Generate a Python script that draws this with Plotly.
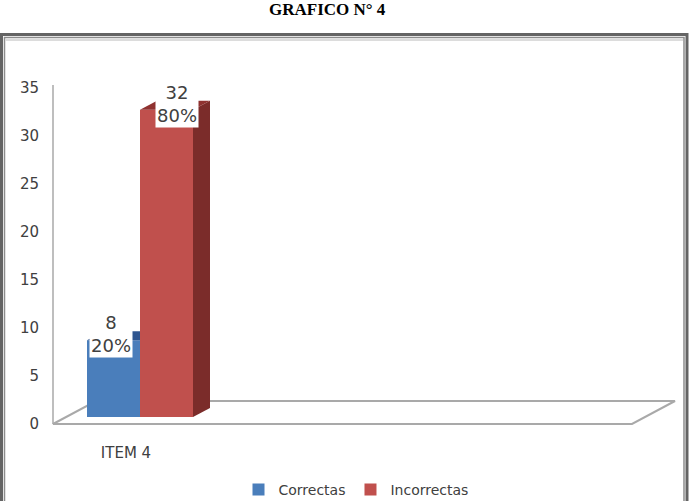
import plotly.graph_objects as go

# ---------------- data ----------------
categories = ["ITEM 4"]
series_names = ["Correctas", "Incorrectas"]
correctas = [8]
incorrectas = [32]
y_tick_vals = [0, 5, 10, 15, 20, 25, 30, 35]
title_text = "GRAFICO N° 4"

# ---------------- style / geometry ----------------
W, H = 689, 501
L, R, T, B = 50, 682, 80, 430          # plot area in px
PX0, PXS = 126, 100.0                   # px of category 0, px per x unit
PY0, PYS = 424, 9.6                     # px of value 0, px per y unit
LIFT = 7 / PYS                          # bars sit slightly behind front floor edge
DX, DY = 0.17, 9 / PYS                  # 3D depth of bars
FDX, FDY = 0.43, 23 / PYS               # 3D depth of floor
BAR_W = 0.53
offsets = [-0.39, 0.14]
front_colors = ["#4a7ebb", "#c0504d"]
side_colors = ["#26497a", "#7b2c2a"]
top_colors = ["#2f5690", "#8f3230"]
label_xshift = [-3, 10]
TXT = "#404040"
FONT = "DejaVu Sans"

xr = [(L - PX0) / PXS, (R - PX0) / PXS]
yr = [(PY0 - B) / PYS, (PY0 - T) / PYS]


def pxx(px):
    return (px - L) / (R - L)


def pxy(py):
    return (B - py) / (B - T)


series = [correctas, incorrectas]
xpos = list(range(len(categories)))
totals = [sum(s[i] for s in series) for i in xpos]

fig = go.Figure()

for k, (name, vals) in enumerate(zip(series_names, series)):
    fig.add_trace(go.Bar(
        x=xpos, y=vals, base=[LIFT] * len(vals), name=name,
        offset=offsets[k], width=BAR_W,
        marker=dict(color=front_colors[k], line=dict(width=0)),
        hoverinfo="skip",
    ))

shapes = []
# floor
axis_x = (53 - PX0) / PXS
fr = (632 - PX0) / PXS
floor_path = (f"M {axis_x},0 L {fr},0 L {fr + FDX},{FDY} "
              f"L {axis_x + FDX},{FDY} Z")
shapes.append(dict(type="path", path=floor_path, xref="x", yref="y",
                   fillcolor="white", line=dict(color="#a9a9a9", width=2),
                   layer="below"))
# y axis line
shapes.append(dict(type="line", x0=axis_x, x1=axis_x, y0=0, y1=(PY0 - 85) / PYS,
                   xref="x", yref="y", line=dict(color="#a9a9a9", width=1.5),
                   layer="below"))

# 3D faces
for i in xpos:
    for k, vals in enumerate(series):
        x0 = i + offsets[k]
        x1 = x0 + BAR_W
        top = LIFT + vals[i]
        covered = (k + 1 < len(series)) and (LIFT + series[k + 1][i] >= top + DY)
        if covered:
            tx = [x0, x1, x1, x0 + DX, x0]
            ty = [top, top, top + DY, top + DY, top]
        else:
            tx = [x0, x1, x1 + DX, x0 + DX, x0]
            ty = [top, top, top + DY, top + DY, top]
            fig.add_trace(go.Scatter(
                x=[x1, x1, x1 + DX, x1 + DX, x1],
                y=[LIFT, top, top + DY, LIFT + DY, LIFT],
                fill="toself", fillcolor=side_colors[k], mode="lines",
                line=dict(width=0, color=side_colors[k]),
                showlegend=False, hoverinfo="skip"))
        fig.add_trace(go.Scatter(
            x=tx, y=ty, fill="toself", fillcolor=top_colors[k], mode="lines",
            line=dict(width=0, color=top_colors[k]),
            showlegend=False, hoverinfo="skip"))

annotations = []
for i in xpos:
    for k, vals in enumerate(series):
        v = vals[i]
        pct = round(v / totals[i] * 100)
        annotations.append(dict(
            x=i + offsets[k] + BAR_W / 2, y=LIFT + v, xref="x", yref="y",
            text=f"{v}<br>{pct}%", showarrow=False, bgcolor="white",
            font=dict(family=FONT, size=18, color=TXT),
            xanchor="center", yanchor="middle",
            xshift=label_xshift[k], yshift=6, borderpad=1))

annotations.append(dict(
    x=pxx(327), y=pxy(20), xref="paper", yref="paper", text=f"<b>{title_text}</b>",
    showarrow=False, xanchor="center", yanchor="bottom", borderpad=0,
    font=dict(family="Liberation Serif", size=17, color="black")))

# frame
shapes.append(dict(type="rect", xref="paper", yref="paper",
                   x0=pxx(1.5), x1=pxx(687), y0=pxy(506), y1=pxy(34.5),
                   line=dict(color="#646464", width=3), layer="below"))
shapes.append(dict(type="rect", xref="paper", yref="paper",
                   x0=pxx(4.5), x1=pxx(684), y0=pxy(506), y1=pxy(37.5),
                   line=dict(color="#8c8c8c", width=1.5), layer="below"))
shapes.append(dict(type="line", xref="paper", yref="paper",
                   x0=pxx(5), x1=pxx(683), y0=pxy(40), y1=pxy(40),
                   line=dict(color="#dcdcdc", width=2), layer="below"))

fig.update_layout(
    width=W, height=H,
    margin=dict(l=L, r=W - R, t=T, b=H - B, autoexpand=False),
    paper_bgcolor="white", plot_bgcolor="rgba(0,0,0,0)",
    barmode="overlay",
    shapes=shapes, annotations=annotations,
    showlegend=True,
    legend=dict(orientation="h", x=pxx(356), xanchor="center",
                y=pxy(490), yanchor="middle",
                font=dict(family=FONT, size=14, color=TXT),
                itemwidth=30, bgcolor="rgba(0,0,0,0)"),
    xaxis=dict(range=xr, tickvals=xpos, ticktext=categories, showgrid=False,
               zeroline=False, showline=False, ticks="",
               tickfont=dict(family=FONT, size=15, color=TXT),
               ticklabelstandoff=12, fixedrange=True),
    yaxis=dict(range=yr, tickvals=y_tick_vals, showgrid=False, zeroline=False,
               showline=False, ticks="",
               tickfont=dict(family=FONT, size=15, color=TXT),
               ticklabelstandoff=10, fixedrange=True),
)

fig.write_html("out.html")
